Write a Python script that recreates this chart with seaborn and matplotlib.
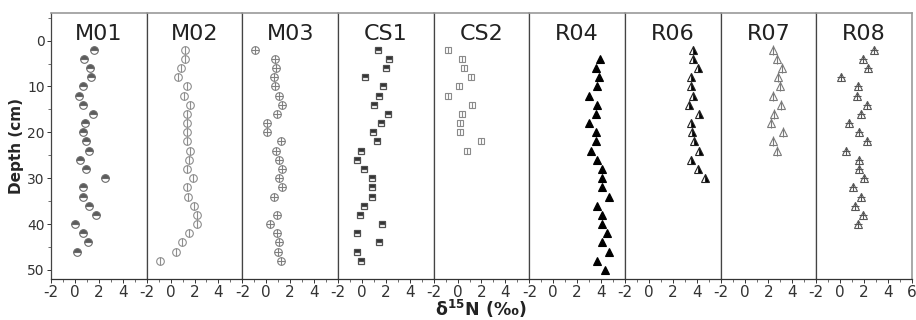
import numpy as np
import pandas as pd
import seaborn as sns
import matplotlib.pyplot as plt
from matplotlib.ticker import MultipleLocator

# d15N profiles (permil) against depth (cm)
sites = ['M01', 'M02', 'M03', 'CS1', 'CS2', 'R04', 'R06', 'R07', 'R08']

depth_m01 = [2, 4, 6, 8, 10, 12, 14, 16, 18, 20, 22, 24, 26, 28, 30, 32, 34, 36, 38, 40, 42, 44, 46]
d15n_m01 = [1.6, 0.75, 1.25, 1.35, 0.65, 0.35, 0.65, 1.5, 0.8, 0.65, 0.95, 1.2, 0.45, 0.95, 2.5,
            0.65, 0.7, 1.15, 1.75, 0.0, 0.7, 1.1, 0.15]

depth_m02 = [2, 4, 6, 8, 10, 12, 14, 16, 18, 20, 22, 24, 26, 28, 30, 32, 34, 36, 38, 40, 42, 44, 46, 48]
d15n_m02 = [1.2, 1.2, 0.9, 0.6, 1.4, 1.1, 1.6, 1.4, 1.35, 1.35, 1.35, 1.65, 1.5, 1.35, 1.9,
            1.4, 1.45, 1.95, 2.2, 2.2, 1.55, 0.95, 0.45, -0.9]

depth_m03 = [2, 4, 6, 8, 10, 12, 14, 16, 18, 20, 22, 24, 26, 28, 30, 32, 34, 38, 40, 42, 44, 46, 48]
d15n_m03 = [-0.95, 0.7, 0.8, 0.65, 0.7, 1.1, 1.3, 0.9, 0.1, 0.1, 1.2, 0.8, 1.1, 1.35, 1.1,
            1.35, 0.65, 0.9, 0.35, 0.9, 1.1, 0.95, 1.2]

depth_cs1 = [2, 4, 6, 8, 10, 12, 14, 16, 18, 20, 22, 24, 26, 28, 30, 32, 34, 36, 38, 40, 42, 44, 46, 48]
d15n_cs1 = [1.35, 2.3, 2.05, 0.25, 1.8, 1.4, 1.0, 2.2, 1.6, 0.95, 1.3, -0.1, -0.45, 0.15, 0.85,
            0.85, 0.85, 0.15, -0.15, 1.7, -0.4, 1.45, -0.4, -0.05]

depth_cs2 = [2, 4, 6, 8, 10, 12, 14, 16, 18, 20, 22, 24]
d15n_cs2 = [-0.8, 0.35, 0.55, 1.15, 0.1, -0.8, 1.2, 0.35, 0.2, 0.2, 1.95, 0.8]

depth_r04 = [4, 6, 8, 10, 12, 14, 16, 18, 20, 22, 24, 26, 28, 30, 32, 34, 36, 38, 40, 42, 44, 46, 48, 50]
d15n_r04 = [3.95, 3.6, 3.85, 3.7, 2.95, 3.65, 3.55, 2.95, 3.6, 3.6, 3.15, 3.65, 4.05, 4.1, 4.1,
            4.65, 3.7, 4.1, 4.1, 4.5, 4.1, 4.65, 3.65, 4.3]

depth_r06 = [2, 4, 6, 8, 10, 12, 14, 16, 18, 20, 22, 24, 26, 28, 30]
d15n_r06 = [3.65, 3.65, 4.1, 3.55, 3.5, 3.7, 3.35, 4.15, 3.5, 3.6, 3.8, 4.15, 3.55, 4.1, 4.65]

depth_r07 = [2, 4, 6, 8, 10, 12, 14, 16, 18, 20, 22, 24]
d15n_r07 = [2.35, 2.7, 3.1, 2.8, 3.0, 2.35, 3.05, 2.45, 2.2, 3.2, 2.4, 2.75]

depth_r08 = [2, 4, 6, 8, 10, 12, 14, 16, 18, 20, 22, 24, 26, 28, 30, 32, 34, 36, 38, 40]
d15n_r08 = [2.85, 1.9, 2.3, 0.1, 1.5, 1.4, 2.2, 1.7, 0.7, 1.6, 2.2, 0.45, 1.6, 1.55, 2.0,
            1.1, 1.7, 1.25, 1.9, 1.45]

depths = [depth_m01, depth_m02, depth_m03, depth_cs1, depth_cs2, depth_r04, depth_r06, depth_r07, depth_r08]
values = [d15n_m01, d15n_m02, d15n_m03, d15n_cs1, d15n_cs2, d15n_r04, d15n_r06, d15n_r07, d15n_r08]

frames = []
for s, d, v in zip(sites, depths, values):
    frames.append(pd.DataFrame({'site': s, 'depth': d, 'd15n': v}))
df = pd.concat(frames, ignore_index=True)

# marker layers for each site: base symbol plus an optional overlay stroke
styles = {
    'M01': [dict(marker='o', ms=5.5, fillstyle='top', mfc='#5c5c5c', mfcalt='white', mec='#6a6a6a', mew=0.8)],
    'M02': [dict(marker='o', ms=5.5, mfc='white', mec='#8e8e8e', mew=0.8),
            dict(marker='|', ms=5.5, mec='#8e8e8e', mew=0.8)],
    'M03': [dict(marker='o', ms=5.5, mfc='white', mec='#808080', mew=0.8),
            dict(marker='+', ms=5.5, mec='#808080', mew=0.8)],
    'CS1': [dict(marker='s', ms=5, fillstyle='top', mfc='#303030', mfcalt='white', mec='#505050', mew=0.9)],
    'CS2': [dict(marker='s', ms=4.5, mfc='white', mec='#8a8a8a', mew=0.8),
            dict(marker='|', ms=4.5, mec='#8a8a8a', mew=0.8)],
    'R04': [dict(marker='^', ms=6, mfc='black', mec='black', mew=0.8)],
    'R06': [dict(marker='^', ms=6, fillstyle='right', mfc='black', mfcalt='white', mec='#222222', mew=0.8)],
    'R07': [dict(marker='^', ms=6, mfc='white', mec='#7a7a7a', mew=0.8),
            dict(marker='|', ms=6.5, mec='#7a7a7a', mew=0.8)],
    'R08': [dict(marker='^', ms=6, mfc='white', mec='#555555', mew=0.8),
            dict(marker='+', ms=6, mec='#555555', mew=0.8)],
}

sns.set_style('ticks')
plt.rcParams['font.family'] = ['DejaVu Sans']

fig, axes = plt.subplots(1, 9, figsize=(9.16, 3.2), dpi=100, sharey=True)
fig.subplots_adjust(left=0.0557, right=0.9956, top=0.959, bottom=0.128, wspace=0)

for i, (ax, s) in enumerate(zip(axes, sites)):
    sub = df[df['site'] == s]
    for kw in styles[s]:
        sns.lineplot(data=sub, x='d15n', y='depth', ax=ax, orient='y', estimator=None,
                     sort=False, linestyle='none', color=kw.get('mec'), **kw)
    ax.set_xlim(-2, 6)
    ax.set_ylim(52, -6)
    ax.set_xlabel('')
    ax.set_ylabel('')
    ax.text(0.5, 0.923, s, transform=ax.transAxes, ha='center', va='center',
            fontsize=16, color='#222222')
    ticks = [-2, 0, 2, 4, 6] if i == 8 else [-2, 0, 2, 4]
    ax.set_xticks(ticks)
    ax.set_xticklabels([str(t) for t in ticks])
    ax.xaxis.set_minor_locator(MultipleLocator(1))
    ax.tick_params(axis='x', which='major', labelsize=11, length=3, width=0.7,
                   colors='#333333', pad=1)
    ax.tick_params(axis='x', which='minor', length=2, width=0.6, color='#555555')
    for side in ['left', 'right']:
        ax.spines[side].set_color('#444444')
        ax.spines[side].set_linewidth(0.9)
    ax.spines['top'].set_visible(True)
    ax.spines['right'].set_visible(True)
    ax.spines['top'].set_color('#9a9a9a')
    ax.spines['top'].set_linewidth(1.2)
    ax.spines['bottom'].set_color('#333333')
    ax.spines['bottom'].set_linewidth(0.9)
    if i == 8:
        ax.spines['right'].set_color('#9a9a9a')
        ax.spines['right'].set_linewidth(1.2)
    if i > 0:
        ax.tick_params(axis='y', which='both', left=False)

axes[0].set_yticks([0, 10, 20, 30, 40, 50])
axes[0].yaxis.set_minor_locator(MultipleLocator(5))
axes[0].tick_params(axis='y', which='major', labelsize=10, length=3, width=0.7,
                    colors='#333333', pad=1.5)
axes[0].tick_params(axis='y', which='minor', length=2, width=0.6, color='#555555')
axes[0].set_ylabel('Depth (cm)', fontsize=11, fontweight='bold', labelpad=2)

fig.text(0.525, 0.0, r'δ$^{\mathbf{15}}$N (‰)', ha='center', va='bottom',
         fontsize=12.5, fontweight='bold', color='#222222')

fig.savefig('out.png', dpi=100)
